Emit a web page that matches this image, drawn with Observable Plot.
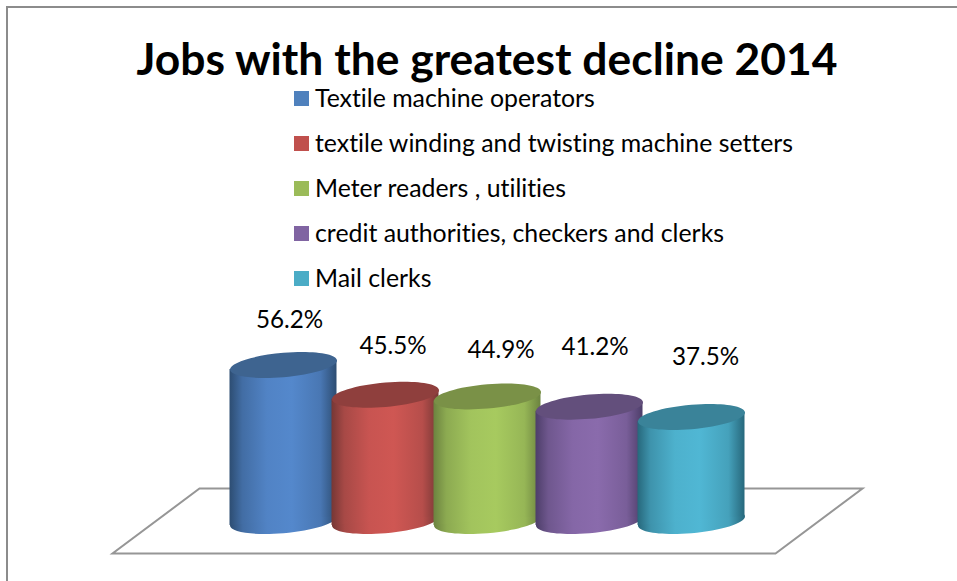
<!DOCTYPE html>
<html>
<head>
<meta charset="utf-8">
<script src="https://cdn.jsdelivr.net/npm/d3@7"></script>
<script src="https://cdn.jsdelivr.net/npm/@observablehq/plot@0.6"></script>
<style>
  html, body { margin: 0; padding: 0; background: #fff; }
  #page { position: relative; width: 957px; height: 581px; overflow: hidden; font-family: Lato, sans-serif; color: #000; font-variant-ligatures: none; }
  #edge-top { position: absolute; left: 6px; top: 6px; right: 0; height: 2px; background: #8c8c8c; }
  #edge-left { position: absolute; left: 6px; top: 6px; bottom: 0; width: 2px; background: #8c8c8c; }
  h1 { position: absolute; left: 0; top: 33px; width: 974px; margin: 0; text-align: center; font-size: 44.4px; line-height: 50px; font-weight: 700; white-space: nowrap; }
  #legend { position: absolute; left: 294px; top: 76px; }
  .entry { display: flex; align-items: center; height: 45px; font-size: 24.85px; white-space: nowrap; }
  .entry span:last-child { position: relative; top: -2px; }
  .swatch { width: 15px; height: 15px; margin-right: 6px; }
  #chart { position: absolute; left: 0; top: 300px; }
</style>
</head>
<body>
<div id="page">
  <div id="edge-top"></div>
  <div id="edge-left"></div>
  <h1>Jobs with the greatest decline 2014</h1>
  <div id="legend"></div>
  <div id="chart"></div>
</div>
<script>
// Share of jobs lost per occupation, in percent
const occupations = [
  "Textile machine operators",
  "textile winding and twisting machine setters",
  "Meter readers , utilities",
  "credit authorities, checkers and clerks",
  "Mail clerks"
];
const declines = [56.2, 45.5, 44.9, 41.2, 37.5];

// Series colours: legend swatch, shaded side, brightest side, cylinder lid
const swatchColors = ["#4f81bd", "#c0504d", "#9bbb59", "#8064a2", "#4bacc6"];
const sideColors = ["#2d4d72", "#763735", "#6c8340", "#4d3e69", "#27687c"];
const lightColors = ["#5488cc", "#cf5753", "#a7ca5f", "#8a6bac", "#50b7d4"];
const lidColors = ["#3e6490", "#8f3f3d", "#7a9147", "#634f7c", "#3a8399"];

// Hand placement of the value labels, in pixels from each lid centre
const labelDx = [6, 7.5, 13.5, 5.5, 14];
const labelDy = [-45, -48, -46, -59, -60];

// Cylinder proportions in pixels
const radiusX = 53.5;
const radiusY = 12.2;
const tilt = -0.084;

// A flattened, sheared ellipse: the visible end of a cylinder
const kappa = 0.5523;
const ellipseSymbol = {
  draw(ctx) {
    const p = (u, v) => [u * radiusX, v * radiusY + u * radiusX * tilt];
    ctx.moveTo(...p(-1, 0));
    ctx.bezierCurveTo(...p(-1, -kappa), ...p(-kappa, -1), ...p(0, -1));
    ctx.bezierCurveTo(...p(kappa, -1), ...p(1, -kappa), ...p(1, 0));
    ctx.bezierCurveTo(...p(1, kappa), ...p(kappa, 1), ...p(0, 1));
    ctx.bezierCurveTo(...p(-kappa, 1), ...p(-1, kappa), ...p(-1, 0));
    ctx.closePath();
  }
};

// The floor the cylinders stand on
const floorSymbol = {
  draw(ctx) {
    ctx.moveTo(-288, -32.5);
    ctx.lineTo(375, -32.5);
    ctx.lineTo(288, 32.5);
    ctx.lineTo(-375, 32.5);
    ctx.closePath();
  }
};

// Side shading, one horizontal gradient per series
function gradients() {
  const defs = d3.create("svg:defs");
  occupations.forEach((_, i) => {
    const mix = d3.interpolateRgb(sideColors[i], lightColors[i]);
    const g = defs.append("linearGradient").attr("id", `side-${i}`);
    [[0, sideColors[i]], [0.12, mix(0.55)], [0.35, mix(0.92)], [0.58, lightColors[i]], [0.85, mix(0.72)], [1, sideColors[i]]]
      .forEach(([offset, color]) => g.append("stop").attr("offset", offset).attr("stop-color", color));
  });
  return defs.node();
}

// Shear a cylinder body so its ends follow the tilted ellipses
function shearBody(index, scales, values, dimensions, context, next) {
  const g = next(index, scales, values, dimensions, context);
  g.querySelectorAll("rect").forEach((r) => {
    const cx = +r.getAttribute("x") + +r.getAttribute("width") / 2;
    r.setAttribute("transform", `translate(0,${cx * -tilt}) skewY(${Math.atan(tilt) * 180 / Math.PI})`);
  });
  return g;
}

const table = occupations.map((name, i) => ({ name, value: declines[i], i }));

const cylinder = (d) => [
  Plot.dot([d], { x: "name", y: () => 0, symbol: ellipseSymbol, fill: `url(#side-${d.i})`, stroke: "none" }),
  Plot.barY([d], { x: "name", y: "value", fill: `url(#side-${d.i})`, insetLeft: -2.5, insetRight: -2.5, render: shearBody }),
  Plot.dot([d], { x: "name", y: "value", symbol: ellipseSymbol, fill: lidColors[d.i], stroke: "none" })
];

const label = (d) => Plot.text([d], {
  x: "name", y: "value", text: (e) => e.value.toFixed(1) + "%",
  dx: labelDx[d.i], dy: labelDy[d.i], fontSize: 24.2, fill: "#000", fontFamily: "Lato, sans-serif"
});

const chart = Plot.plot({
  width: 957,
  height: 281,
  margin: 0,
  style: { background: "transparent", overflow: "visible" },
  x: { domain: occupations, range: [232, 742], padding: 0, axis: null },
  y: { domain: [0, 60], range: [220.5, 54], axis: null },
  marks: [
    gradients,
    Plot.dot([occupations[2]], { x: (d) => d, y: () => 0, symbol: floorSymbol, fill: "#fff", stroke: "#969696", strokeWidth: 2 }),
    ...table.flatMap(cylinder),
    ...table.map(label)
  ]
});
document.getElementById("chart").append(chart);

// Legend listing the occupations top to bottom
const legend = d3.select("#legend");
occupations.forEach((name, i) => {
  const row = legend.append("div").attr("class", "entry");
  row.append("span").attr("class", "swatch").style("background", swatchColors[i]);
  row.append("span").text(name);
});
</script>
</body>
</html>
